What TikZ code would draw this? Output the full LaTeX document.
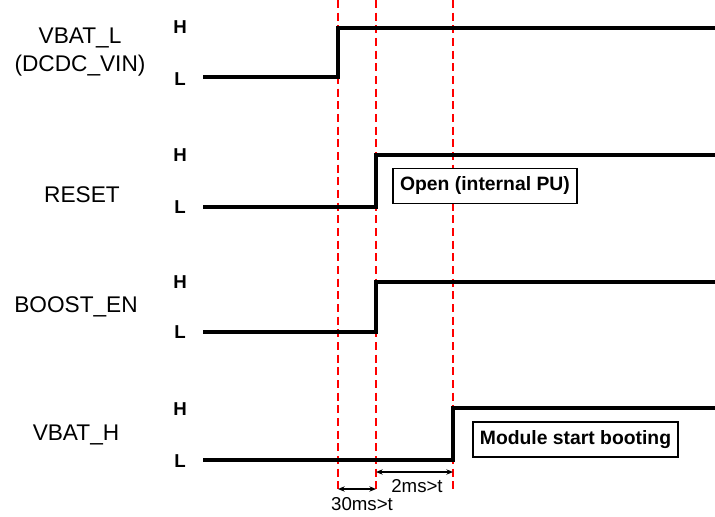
\documentclass[tikz,border=0pt]{standalone}
\usepackage{fontspec}
\setmainfont{Liberation Sans}
\usetikzlibrary{arrows.meta}

\begin{document}
\begin{tikzpicture}
    [ x=0.75pt, y=-0.75pt
    , signame/.style={font=\fontsize{17}{21}\selectfont, align=center}
    , level/.style={font=\bfseries\fontsize{14}{16}\selectfont}
    , wave/.style={line width=3pt, line join=miter}
    , marker/.style={red, line width=1.1pt, dash pattern=on 6pt off 3.5pt}
    , note/.style={draw, fill=white, line width=1.1pt, font=\bfseries\fontsize{14.5}{16}\selectfont, minimum height=26pt}
    , span/.style={{Stealth[length=5pt,width=4pt]}-{Stealth[length=5pt,width=4pt]}, line width=1.1pt}
    , timing/.style={font=\fontsize{14}{16}\selectfont}
    ]

    \useasboundingbox (0,0) rectangle (715,517);

    % signal names and levels
    \node [signame] (vbl)   at (80,52)  {VBAT\_L\\(DCDC\_VIN)};
    \node [signame] (rst)   at (82,195) {RESET};
    \node [signame] (boost) at (76,307) {BOOST\_EN};
    \node [signame] (vbh)   at (76,435) {VBAT\_H};

    \node [level] (vbl-h)   at (180,27)  {H};
    \node [level] (vbl-l)   at (180,79)  {L};
    \node [level] (rst-h)   at (180,155) {H};
    \node [level] (rst-l)   at (180,207) {L};
    \node [level] (boost-h) at (180,282) {H};
    \node [level] (boost-l) at (180,332) {L};
    \node [level] (vbh-h)   at (180,409) {H};
    \node [level] (vbh-l)   at (180,461) {L};

    % time markers
    \coordinate (t1-top) at (338,0);   \coordinate (t1-bot) at (338,492);
    \coordinate (t2-top) at (376,0);   \coordinate (t2-bot) at (376,492);
    \coordinate (t3-top) at (453,0);   \coordinate (t3-bot) at (453,492);
    \draw [marker] (t1-top) -- (t1-bot);
    \draw [marker] (t2-top) -- (t2-bot);
    \draw [marker] (t3-top) -- (t3-bot);

    % waveforms
    \coordinate (vbl-start) at (203,77);  \coordinate (vbl-edge) at (338,28);  \coordinate (vbl-end) at (715,28);
    \coordinate (rst-start) at (203,207); \coordinate (rst-edge) at (376,155); \coordinate (rst-end) at (715,155);
    \coordinate (boost-start) at (203,332); \coordinate (boost-edge) at (376,282); \coordinate (boost-end) at (715,282);
    \coordinate (vbh-start) at (203,460); \coordinate (vbh-edge) at (453,408); \coordinate (vbh-end) at (715,408);

    \draw [wave] (vbl-start) -| (vbl-edge) -- (vbl-end);
    \draw [wave] (rst-start) -| (rst-edge) -- (rst-end);
    \draw [wave] (boost-start) -| (boost-edge) -- (boost-end);
    \draw [wave] (vbh-start) -| (vbh-edge) -- (vbh-end);

    \node [note, minimum width=138pt] (open) at (485,186) {Open (internal PU)};
    \node [note, minimum width=154pt] (boot) at (575.5,439.5) {Module start booting};

    % delays
    \coordinate (d1-a) at (338,489); \coordinate (d1-b) at (376,489);
    \coordinate (d2-a) at (376,472); \coordinate (d2-b) at (453,472);
    \draw [span] (d1-a) -- (d1-b);
    \draw [span] (d2-a) -- (d2-b);
    \node [timing] (d1-text) at (362,504) {30ms>t};
    \node [timing] (d2-text) at (417,486) {2ms>t};
\end{tikzpicture}
\end{document}
